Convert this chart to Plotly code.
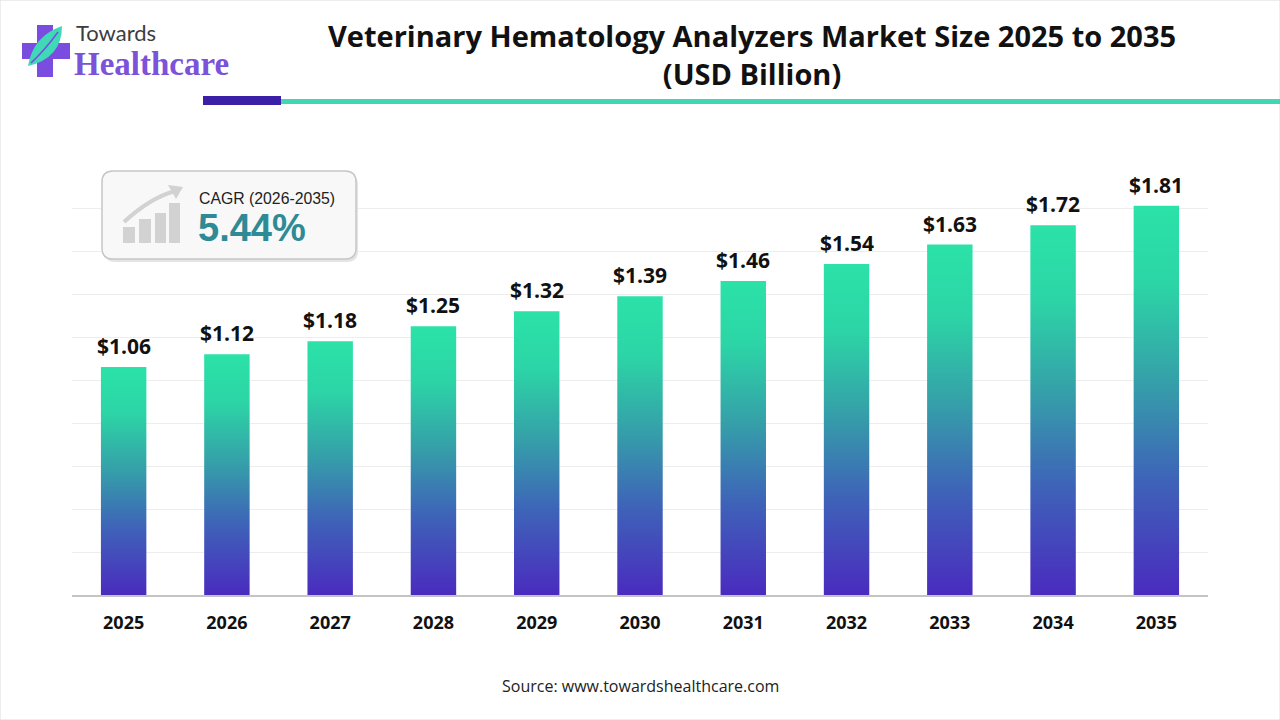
import plotly.graph_objects as go

# data
years = ["2025", "2026", "2027", "2028", "2029", "2030", "2031", "2032", "2033", "2034", "2035"]
market_size = [1.06, 1.12, 1.18, 1.25, 1.32, 1.39, 1.46, 1.54, 1.63, 1.72, 1.81]
cagr_label = "CAGR (2026-2035)"
cagr_value = "5.44%"

W, H = 1280, 720


def px(x):
    return x / W


def py(y):
    return 1 - y / H


def rect(x0, y0, x1, y1, color, **kw):
    return dict(type="rect", xref="paper", yref="paper",
                x0=px(x0), x1=px(x1), y0=py(y0), y1=py(y1),
                fillcolor=color, line=dict(width=0), **kw)


def rounded_box(x0, y0, x1, y1, r):
    pts = [
        f"M {px(x0 + r)},{py(y0)}",
        f"L {px(x1 - r)},{py(y0)}",
        f"Q {px(x1)},{py(y0)} {px(x1)},{py(y0 + r)}",
        f"L {px(x1)},{py(y1 - r)}",
        f"Q {px(x1)},{py(y1)} {px(x1 - r)},{py(y1)}",
        f"L {px(x0 + r)},{py(y1)}",
        f"Q {px(x0)},{py(y1)} {px(x0)},{py(y1 - r)}",
        f"L {px(x0)},{py(y0 + r)}",
        f"Q {px(x0)},{py(y0)} {px(x0 + r)},{py(y0)}",
        "Z",
    ]
    return " ".join(pts)


def path(points):
    return " ".join(points)


bar_colorscale = [[0, "#4a2bbf"], [0.3, "#3e64b8"], [0.55, "#35a0a9"],
                  [0.8, "#2cd5a6"], [1, "#2be2a8"]]
half = 0.22

fig = go.Figure()

# bars drawn as filled shapes so each one gets its own vertical gradient
for i, v in enumerate(market_size):
    fig.add_trace(go.Scatter(
        x=[i - half, i + half, i + half, i - half, i - half],
        y=[0, 0, v, v, 0],
        mode="lines", line=dict(width=0), fill="toself",
        fillgradient=dict(type="vertical", colorscale=bar_colorscale),
        hoverinfo="skip", showlegend=False
    ))

shapes = [
    # page border
    dict(type="rect", xref="paper", yref="paper", x0=0, x1=1, y0=0, y1=1,
         line=dict(color="#dcdcdc", width=1), fillcolor="rgba(0,0,0,0)"),
    # header rule
    rect(203, 96, 281, 105, "#3b1fa6"),
    rect(281, 99, 1280, 104, "#40d7b4"),
    # logo cross
    rect(37, 25, 53, 77, "#7a4de0"),
    rect(22, 43, 70, 59, "#7a4de0"),
    dict(type="path", xref="paper", yref="paper", layer="above",
         path=path([f"M {px(28)},{py(66)}",
                    f"Q {px(33)},{py(36)} {px(62)},{py(26)}",
                    f"Q {px(62)},{py(58)} {px(28)},{py(66)}", "Z"]),
         fillcolor="#3fd9b8", line=dict(width=0)),
    dict(type="path", xref="paper", yref="paper", layer="above",
         path=path([f"M {px(31)},{py(63)}",
                    f"Q {px(45)},{py(50)} {px(58)},{py(32)}"]),
         line=dict(color="#7a4de0", width=1.5)),
    # CAGR box shadow + box
    dict(type="path", xref="paper", yref="paper", layer="above",
         path=rounded_box(104, 174, 358, 262, 11),
         fillcolor="#e4e4e4", line=dict(width=0)),
    dict(type="path", xref="paper", yref="paper", layer="above",
         path=rounded_box(102, 171, 356, 259, 11),
         fillcolor="#f8f8f8", line=dict(color="#c6c6c6", width=1.5)),
    # icon bars
    rect(123, 227, 135, 243, "#d2d2d2", layer="above"),
    rect(139, 219, 151, 243, "#d2d2d2", layer="above"),
    rect(155, 213, 166, 243, "#d2d2d2", layer="above"),
    rect(169, 203, 180, 243, "#d2d2d2", layer="above"),
    # icon arrow
    dict(type="path", xref="paper", yref="paper", layer="above",
         path=path([f"M {px(124)},{py(222)}",
                    f"Q {px(150)},{py(198)} {px(175)},{py(191)}"]),
         line=dict(color="#d2d2d2", width=4)),
    dict(type="path", xref="paper", yref="paper", layer="above",
         path=path([f"M {px(168)},{py(185)}", f"L {px(183)},{py(187)}",
                    f"L {px(176)},{py(199)}", "Z"]),
         fillcolor="#d2d2d2", line=dict(width=0)),
]

# value labels above each bar
annotations = [
    dict(text=f"${v:.2f}", x=i, y=v, xref="x", yref="y",
         xanchor="center", yanchor="bottom", yshift=5, showarrow=False,
         font=dict(family="Open Sans", size=21, color="#111111", weight="bold"))
    for i, v in enumerate(market_size)
]

annotations += [
    dict(text="Veterinary Hematology Analyzers Market Size 2025 to 2035<br>(USD Billion)",
         x=px(752), y=py(55), xref="paper", yref="paper",
         xanchor="center", yanchor="middle", showarrow=False,
         font=dict(family="Open Sans", size=29, color="#111111", weight="bold")),
    dict(text="Towards", x=px(74), y=py(33), xref="paper", yref="paper",
         xanchor="left", yanchor="middle", showarrow=False,
         font=dict(family="Lato", size=22, color="#3d3d3d")),
    dict(text="Healthcare", x=px(72), y=py(64), xref="paper", yref="paper",
         xanchor="left", yanchor="middle", showarrow=False,
         font=dict(family="Liberation Serif", size=33, color="#7b52d9", weight="bold")),
    dict(text=cagr_label, x=px(197), y=py(198), xref="paper", yref="paper",
         xanchor="left", yanchor="middle", showarrow=False,
         font=dict(family="Liberation Sans", size=15.8, color="#222222")),
    dict(text=cagr_value, x=px(196), y=py(228), xref="paper", yref="paper",
         xanchor="left", yanchor="middle", showarrow=False,
         font=dict(family="Liberation Sans", size=38, color="#2e8b96", weight="bold")),
    dict(text="Source: www.towardshealthcare.com", x=px(640), y=py(686),
         xref="paper", yref="paper", xanchor="center", yanchor="middle",
         showarrow=False,
         font=dict(family="Open Sans", size=16, color="#222222")),
]

fig.update_layout(
    width=W, height=H,
    margin=dict(l=0, r=0, t=0, b=0),
    paper_bgcolor="white", plot_bgcolor="white",
    showlegend=False,
    shapes=shapes,
    annotations=annotations,
    xaxis=dict(
        domain=[px(72), px(1208)], range=[-0.5, len(years) - 0.5],
        tickvals=list(range(len(years))), ticktext=years,
        showgrid=False, zeroline=False, ticks="",
        showline=True, linecolor="#c4c4c4", linewidth=2,
        ticklabelstandoff=10,
        tickfont=dict(family="Open Sans", size=18, color="#111111", weight="bold"),
        fixedrange=True,
    ),
    yaxis=dict(
        domain=[py(595), py(165)], range=[0, 2.0], dtick=0.2,
        showgrid=True, gridcolor="#ededed", gridwidth=1,
        zeroline=False, showticklabels=False, fixedrange=True,
    ),
)

fig.write_html("out.html", config={"displayModeBar": False},
               post_script="document.body.style.margin='0px';")
